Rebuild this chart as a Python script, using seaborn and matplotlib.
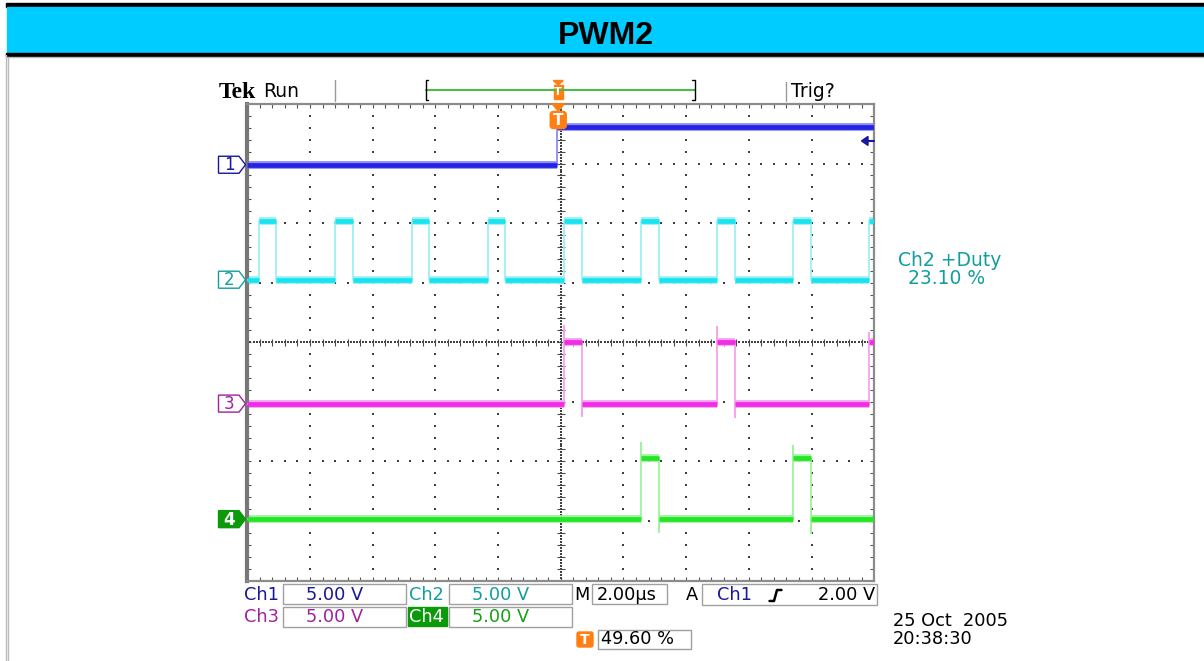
import numpy as np
import pandas as pd
import seaborn as sns
import matplotlib.pyplot as plt
from matplotlib.patches import Rectangle, Polygon, FancyBboxPatch
from matplotlib.ticker import FixedLocator


# time axis in microseconds (2 us/div), trigger at 49.6 % of the record
t_start = -9.92
t_end = 10.08

channels = ["Ch1", "Ch2", "Ch3", "Ch4"]
# ground marker of each trace, in divisions from screen centre
offsets = [2.98, 1.05, -1.03, -2.97]
volts_per_div = 5.0
low_v = [0.0, 0.0, 0.0, 0.0]
high_v = [3.2, 4.95, 5.15, 5.1]

# switching instants (us), every trace starts low
ch1_edges = [-0.05]
ch2_edges = [-9.55, -9.00, -7.11, -6.56, -4.67, -4.12, -2.23, -1.69, 0.19,
             0.76, 2.63, 3.20, 5.06, 5.64, 7.50, 8.07, 9.93]
ch3_edges = [0.19, 0.76, 5.06, 5.63, 9.93]
ch4_edges = [2.63, 3.22, 7.50, 8.06]
all_edges = [ch1_edges, ch2_edges, ch3_edges, ch4_edges]

# overshoot / undershoot reached at each edge of ch3 and ch4 (V)
ch3_spikes = [6.6, -1.1, 6.5, -1.2, 6.0]
ch4_spikes = [6.5, -1.2, 6.2, -1.25]

scales = ["5.00 V", "5.00 V", "5.00 V", "5.00 V"]
timebase = "2.00\u00b5s"
trig_source = "Ch1"
trig_level = 2.00
trig_pos = 49.60
duty = 23.10
date_txt = "25 Oct  2005"
time_txt = "20:38:30"

core_col = ["#2424E2", "#18E4F0", "#F02CE6", "#24E624"]
halo_col = ["#8E8EF2", "#9CF0F6", "#F6A2F0", "#A0F2A0"]
text_col = ["#18189C", "#139E9E", "#A0229E", "#17A017"]
orange = "#FF7F12"

W, H = 1204, 661
X0, X1, Y0, Y1 = 247.3, 874.2, 104.0, 580.5


def px_x(t):
    return X0 + (t - t_start) / (t_end - t_start) * (X1 - X0)


def px_y(d):
    return Y0 + (4 - d) / 8 * (Y1 - Y0)


def build_traces():
    rows = []
    segs = []
    for name, off, lo, hi, edges in zip(channels, offsets, low_v, high_v, all_edges):
        ts = [t_start] + edges + [t_end]
        lv = [hi if i % 2 else lo for i in range(len(edges) + 1)]
        ys = [off + v / volts_per_div for v in lv]
        ys.append(ys[-1])
        for t, y in zip(ts, ys):
            rows.append({"t": t, "y": y, "channel": name})
        for i in range(len(ts) - 1):
            segs.append((name, ys[i], ts[i], ts[i + 1]))
    return pd.DataFrame(rows), segs


sns.set_theme(style="white")
plt.rcParams["font.family"] = ["DejaVu Sans"]

fig = plt.figure(figsize=(W / 100, H / 100), dpi=100)
fig.patch.set_facecolor("white")
ax = fig.add_axes([X0 / W, 1 - Y1 / H, (X1 - X0) / W, (Y1 - Y0) / H])
ax.set_facecolor("white")
ax.set_xlim(t_start, t_end)
ax.set_ylim(-4, 4)

# graticule
t_c = t_start + 10
grid_t = t_start + 0.4 * np.arange(1, 50)
grid_d = np.arange(-3.8, 3.81, 0.2)
dot = dict(marker="s", s=1.8, linewidths=0, color="#404040", zorder=1)
for k in range(1, 10):
    if k == 5:
        continue
    ax.scatter(np.full(len(grid_d), t_start + 2 * k), grid_d, **dot)
for d in range(-3, 4):
    if d == 0:
        continue
    ax.scatter(grid_t, np.full(len(grid_t), d), **dot)
dense_d = np.arange(-3.95, 3.96, 0.05)
dense_t = np.arange(t_start + 0.1, t_end, 0.1)
ax.scatter(np.full(len(dense_d), t_c), dense_d, **dot)
ax.scatter(dense_t, np.zeros(len(dense_t)), **dot)
ax.hlines(grid_d, t_c - 0.12, t_c + 0.12, color="#4a4a4a", lw=0.8, zorder=1)
ax.vlines(grid_t, -0.06, 0.06, color="#4a4a4a", lw=0.8, zorder=1)

ax.xaxis.set_major_locator(FixedLocator(grid_t))
ax.yaxis.set_major_locator(FixedLocator(grid_d))
ax.tick_params(direction="in", length=3.2, width=0.8, color="#555555",
               top=True, right=True, bottom=True, left=True,
               labelbottom=False, labelleft=False)
for side in ["top", "bottom", "right"]:
    ax.spines[side].set_color("#8c8c8c")
    ax.spines[side].set_linewidth(1.6)
ax.spines["left"].set_color("#777777")
ax.spines["left"].set_linewidth(3.0)

# waveforms
df, segs = build_traces()
for name, y, a, b in segs:
    i = channels.index(name)
    ax.hlines(y, a, b, color=halo_col[i], lw=5.6, zorder=2)
sns.lineplot(data=df, x="t", y="y", hue="channel", palette=halo_col,
             estimator=None, sort=False, drawstyle="steps-post", lw=1.3,
             legend=False, ax=ax, zorder=3)
for name, y, a, b in segs:
    i = channels.index(name)
    ax.hlines(y, a, b, color=core_col[i], lw=3.4, zorder=4)
for i, edges, spikes in [(2, ch3_edges, ch3_spikes), (3, ch4_edges, ch4_spikes)]:
    for j, (t, v) in enumerate(zip(edges, spikes)):
        base = high_v[i] if j % 2 == 0 else low_v[i]
        ax.vlines(t, offsets[i] + base / volts_per_div, offsets[i] + v / volts_per_div,
                  color=halo_col[i], lw=1.4, zorder=3)
ax.set_xlabel("")
ax.set_ylabel("")

# screen furniture in pixel coordinates
ov = fig.add_axes([0, 0, 1, 1], zorder=5)
ov.set_xlim(0, W)
ov.set_ylim(H, 0)
ov.axis("off")

ov.add_patch(Rectangle((6, 3), W, 3.5, color="black"))
ov.add_patch(Rectangle((7, 6.5), W, 46, color="#00CCFF"))
ov.add_patch(Rectangle((6, 52.5), W, 3, color="black"))
ov.plot([6, W], [57, 57], color="#bbbbbb", lw=1)
ov.plot([5.5, 5.5], [55, H], color="#bbbbbb", lw=1)
ov.plot([7.5, 7.5], [57, H], color="#bbbbbb", lw=1)
ov.text(W / 2 + 4, 44, "PWM2", ha="center", va="baseline", fontsize=23,
        fontweight="bold", family="Liberation Sans", color="black")

ov.text(219, 97.5, "Tek", fontsize=17, fontweight="bold", family="Liberation Serif",
        va="baseline", color="black")
ov.text(263, 97, "Run", fontsize=13.5, va="baseline", color="black")
ov.text(791, 97, "Trig?", fontsize=13.5, va="baseline", color="black")
ov.plot([335, 335], [80, 101], color="#999999", lw=1)
ov.plot([786, 786], [82, 101], color="#999999", lw=1)
ov.plot([426, 695], [90, 90], color="#4cba4c", lw=1.5)
ov.plot([428, 425.5, 425.5, 428], [80, 80, 100, 100], color="black", lw=1)
ov.plot([692, 694.5, 694.5, 692], [80, 80, 100, 100], color="black", lw=1)

tx = px_x(0.0)
ov.add_patch(Polygon([(tx - 5, 80.5), (tx + 5, 80.5), (tx, 85)], color=orange))
ov.add_patch(Rectangle((tx - 4.5, 85), 9, 14, color=orange))
ov.text(tx, 92, "T", ha="center", va="center", fontsize=8, fontweight="bold", color="white")
ov.add_patch(Polygon([(tx - 6, 104), (tx + 6, 104), (tx, 111)], color=orange))
ov.add_patch(FancyBboxPatch((tx - 8, 111.5), 16, 17,
                            boxstyle="round,pad=0,rounding_size=3", color=orange))
ov.text(tx, 120.5, "T", ha="center", va="center", fontsize=11, fontweight="bold", color="white")

# trigger level arrow on the right edge
ly = px_y(offsets[0] + trig_level / volts_per_div)
ov.add_patch(Polygon([(861.5, ly), (868, ly - 4.5), (868, ly + 4.5)], color=text_col[0]))
ov.plot([867, 874], [ly, ly], color=text_col[0], lw=1.5)

# channel ground markers
for i, off in enumerate(offsets):
    yc = px_y(off)
    pts = [(218.5, yc - 8.5), (239, yc - 8.5), (245.5, yc), (239, yc + 8.5), (218.5, yc + 8.5)]
    if i == 3:
        ov.add_patch(Polygon(pts, closed=True, facecolor="#0A9A0A", edgecolor="#0A9A0A", lw=1))
        ov.text(229, yc + 0.5, str(i + 1), ha="center", va="center", fontsize=12,
                fontweight="bold", color="white")
    else:
        ov.add_patch(Polygon(pts, closed=True, facecolor="white", edgecolor=text_col[i], lw=1))
        ov.text(229, yc + 0.5, str(i + 1), ha="center", va="center", fontsize=12,
                color=text_col[i])

# readout boxes
box = dict(fill=False, edgecolor="#a0a0a0", lw=1)
for (x, y, w, h) in [(283, 584, 123, 20), (449, 584, 123, 20), (592, 584, 75, 20),
                     (702, 584, 175, 21), (283, 606.5, 123, 20.5), (449, 606.5, 123, 20.5),
                     (598, 630, 93, 19)]:
    ov.add_patch(Rectangle((x, y), w, h, **box))
ov.add_patch(Rectangle((408, 607), 39, 19, color="#0A9A0A"))

fs = 12.8
ov.text(244, 600, channels[0], fontsize=fs, va="baseline", color=text_col[0])
ov.text(306, 600, scales[0], fontsize=fs, va="baseline", color=text_col[0])
ov.text(409, 600, channels[1], fontsize=fs, va="baseline", color=text_col[1])
ov.text(472, 600, scales[1], fontsize=fs, va="baseline", color=text_col[1])
ov.text(244, 621.5, channels[2], fontsize=fs, va="baseline", color=text_col[2])
ov.text(306, 621.5, scales[2], fontsize=fs, va="baseline", color=text_col[2])
ov.text(409.5, 621.5, channels[3], fontsize=fs, va="baseline", color="white")
ov.text(472, 621.5, scales[3], fontsize=fs, va="baseline", color=text_col[3])
ov.text(574, 600, "M", fontsize=fs, va="baseline", color="black")
ov.text(597, 600, timebase, fontsize=fs, va="baseline", color="black")
ov.text(686, 600, "A", fontsize=fs, va="baseline", color="black")
ov.text(717, 600, trig_source, fontsize=fs, va="baseline", color=text_col[0])
ov.plot([769.5, 774, 777, 781.5], [601, 601, 590, 590], color="black", lw=1.8)
ov.text(875, 600, f"{trig_level:.2f} V", fontsize=fs, va="baseline", ha="right", color="black")

ov.add_patch(FancyBboxPatch((577, 632), 16, 15, boxstyle="round,pad=0,rounding_size=2", color=orange))
ov.text(585, 640, "T", ha="center", va="center", fontsize=10, fontweight="bold", color="white")
ov.text(601, 644.5, f"{trig_pos:.2f} %", fontsize=fs, va="baseline", color="black")

ov.text(893, 625.7, date_txt, fontsize=fs, va="baseline", color="black")
ov.text(893, 644.3, time_txt, fontsize=fs, va="baseline", color="black")

ov.text(950, 266, "Ch2 +Duty", fontsize=13.5, va="baseline", ha="center", color=text_col[1])
ov.text(947, 283.5, f"{duty:.2f} %", fontsize=13.5, va="baseline", ha="center", color=text_col[1])

fig.savefig("out.png", dpi=100)
